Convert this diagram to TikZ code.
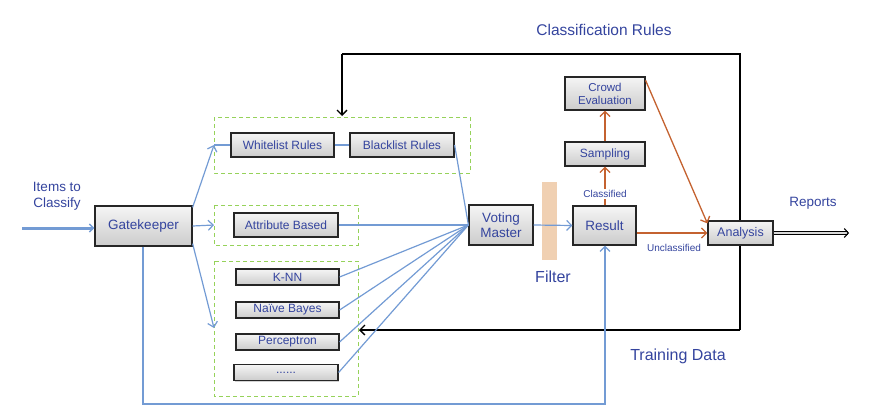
\documentclass[tikz,border=0pt]{standalone}
\usepackage{fontspec}
\setmainfont{Liberation Sans}
\usetikzlibrary{arrows.meta,shadows}
\definecolor{txtblue}{RGB}{52,68,158}
\definecolor{lnblue}{RGB}{115,155,212}
\definecolor{orng}{RGB}{196,98,48}
\definecolor{grn}{RGB}{150,210,90}
\definecolor{peach}{RGB}{240,208,178}
\tikzset{
  box/.style={draw=black!85, line width=1.2pt, top color=gray!8, bottom color=gray!40,
     text=txtblue, align=center, inner sep=1pt,
     drop shadow={opacity=0.35, shadow xshift=1.2pt, shadow yshift=-1.2pt}},
  grp/.style={draw=grn, dashed, dash pattern=on 4pt off 3pt, line width=1pt},
  bl/.style={draw=lnblue, line width=1.2pt},
  ba/.style={bl, -{Straight Barb[length=5pt,width=10pt,line width=1.2pt]}},
  oa/.style={draw=orng, line width=1.3pt, -{Straight Barb[length=5pt,width=10pt,line width=1.3pt]}},
  ka/.style={draw=black, line width=1.1pt, -{Straight Barb[length=5pt,width=10pt,line width=1.3pt]}},
  lbl/.style={text=txtblue, align=center, inner sep=0pt},
  bt/.style={font=\fontsize{12}{14}\selectfont},
  x=1pt, y=-1pt
}
\begin{document}
\begin{tikzpicture}
\useasboundingbox (0,0) rectangle (875,418);
% groups
\draw[grp] (214,117) rectangle (470,173);
\draw[grp] (214,205) rectangle (358,245);
\draw[grp] (214,261) rectangle (358,396);
\coordinate (gw) at (214,145);
\coordinate (ga) at (214,225);
\coordinate (gc) at (214,328);
\coordinate (gtop) at (342,116);
% filter
\fill[peach] (542,182) rectangle (557,260);
\node[lbl, font=\fontsize{16}{18}\selectfont] (filt) at (553,277) {Filter};
% nodes
\node[box, minimum width=97pt, minimum height=40pt, font=\fontsize{13.5}{15}\selectfont] (gk) at (143.5,226) {Gatekeeper};
\node[box, bt, minimum width=103pt, minimum height=24pt] (wl) at (282.5,145) {Whitelist Rules};
\node[box, bt, minimum width=104pt, minimum height=24pt] (bk) at (402,145) {Blacklist Rules};
\node[box, bt, minimum width=104pt, minimum height=24pt] (ab) at (286,225) {Attribute Based};
\node[box, bt, minimum width=103pt, minimum height=16pt] (knn) at (287.5,277) {K-NN};
\node[box, bt, minimum width=103pt, minimum height=16pt] (nb) at (287.5,310) {Naïve Bayes};
\node[box, bt, minimum width=103pt, minimum height=16pt] (pc) at (287.5,342) {Perceptron};
\node[box, bt, minimum width=104pt, minimum height=16pt] (dots) at (286,372.5) {\raisebox{-2pt}{......}};
\node[box, minimum width=64pt, minimum height=40pt, font=\fontsize{13.5}{15.5}\selectfont] (vm) at (501,225) {Voting\\Master};
\node[box, minimum width=63pt, minimum height=39pt, font=\fontsize{13.5}{15}\selectfont] (res) at (604.5,225.5) {Result};
\node[box, bt, minimum width=80pt, minimum height=24pt] (samp) at (605,154) {Sampling};
\node[box, minimum width=80pt, minimum height=33pt, font=\fontsize{11.5}{13}\selectfont] (crowd) at (605,93.5) {Crowd\\Evaluation};
% labels
\node[lbl, font=\fontsize{13.5}{16}\selectfont] (items) at (57,196) {Items to\\Classify};
\node[lbl, font=\fontsize{15.5}{17}\selectfont] (crules) at (604,30) {Classification Rules};
\node[lbl, font=\fontsize{16}{18}\selectfont] (tdata) at (678,356) {Training Data};
\node[lbl, font=\fontsize{13.5}{15}\selectfont] (rep) at (813,203) {Reports};
\coordinate (in0) at (22,228);
\coordinate (top1) at (342,54);
\coordinate (top2) at (740,54);
\coordinate (bot2) at (740,330);
\coordinate (barr) at (359,330);
\coordinate (gkb) at (143,404);
\coordinate (resb) at (605,404);
\coordinate (repend) at (849,233);
% black feedback loop (behind analysis)
\draw[line width=1.1pt] (bot2) -- (top2) -- (top1);
\draw[ka] (top1) -- (gtop);
\draw[ka] (bot2) -- (barr);
\node[box, minimum width=65pt, minimum height=24pt, font=\fontsize{12.5}{14}\selectfont] (an) at (740.5,233) {Analysis};
% input
\draw[draw=lnblue, line width=3pt, -{Straight Barb[length=4pt,width=8pt,line width=1.5pt]}] (in0) -- (gk.west |- in0);
% gatekeeper to groups
\draw[ba] (gk.north east) ++(0,2) -- (gw);
\draw[ba] (gk.east) -- (ga);
\draw[ba] (gk.south east) ++(0,-3) -- (gc);
\draw[bl] (gw) -- (wl.west);
\draw[bl] (wl.east) -- (bk.west);
\draw[bl] (bk.east) -- (vm.west);
\draw[bl] (ab.east) -- (vm.west);
\draw[bl] (knn.east) -- (vm.west);
\draw[bl] (nb.east) -- (vm.west);
\draw[bl] (pc.east) -- (vm.west);
\draw[bl] (dots.east) -- (vm.west);
\draw[ba] (vm.east) -- (res.west);
% bottom blue loop
\draw[ba] (gk.south -| gkb) -- (gkb) -- (resb) -- (res.south -| resb);
% orange
\draw[oa] (res.north -| samp) -- node[lbl, font=\fontsize{10}{11}\selectfont, pos=0.3, fill=white, inner sep=1.5pt] (cl) {Classified} (samp.south);
\draw[oa] (samp.north) -- (crowd.south);
\draw[oa] ([yshift=-4pt]crowd.north east) -- ([yshift=-3pt]an.north west);
\draw[oa] (res.east |- an.west) -- (an.west);
\node[lbl, font=\fontsize{10}{11}\selectfont] (uncl) at (674,248) {Unclassified};
% reports arrow
\draw[double=gray!30, draw=black, line width=1.1pt, double distance=2pt, -{Straight Barb[length=4pt,width=9pt,line width=1.1pt]}] (an.east) -- (repend);
\end{tikzpicture}
\end{document}
